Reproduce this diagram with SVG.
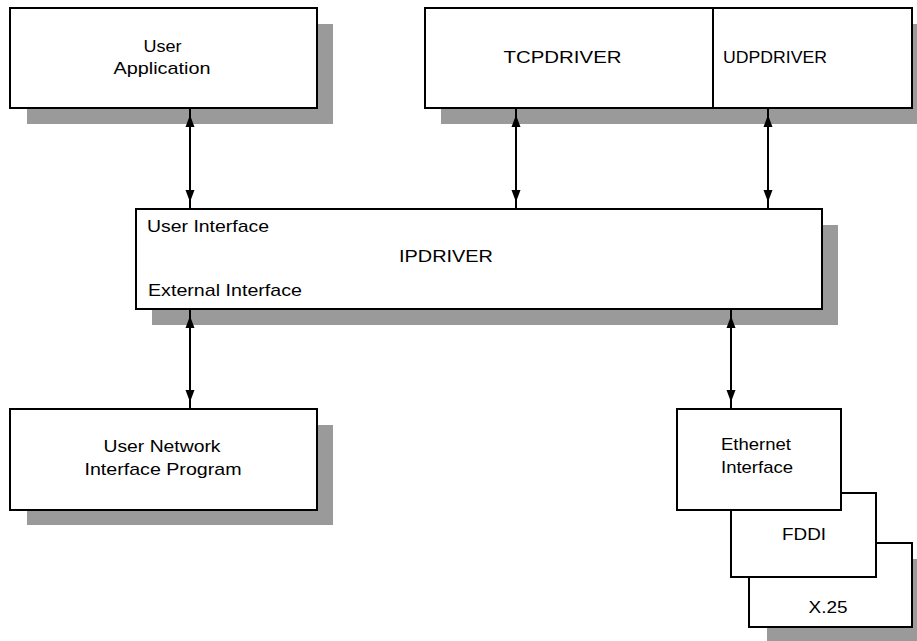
<svg xmlns="http://www.w3.org/2000/svg" width="917" height="641" viewBox="0 0 917 641">
  <style>
    .shadow { fill: #9a9a9a; stroke: none; }
    .box { fill: #ffffff; stroke: #000000; stroke-width: 2; }
    .label { font-family: "Liberation Sans", Arial, sans-serif; font-size: 17px; fill: #000000; }
    .mid { text-anchor: middle; }
    .link { stroke: #000000; stroke-width: 2; fill: none; marker-start: url(#head); marker-end: url(#head); }
  </style>
  <defs>
    <!-- filled head whose tip sits 7px in from the line end -->
    <marker id="head" markerUnits="userSpaceOnUse" viewBox="0 0 20 10" markerWidth="20" markerHeight="10" refX="19" refY="5" orient="auto-start-reverse">
      <path d="M0,0.5 L12,5 L0,9.5 z" fill="#000000"/>
    </marker>
  </defs>

  <rect width="917" height="641" fill="#ffffff"/>

  <g id="user-application">
    <rect class="shadow" x="27" y="24" width="306" height="100"/>
    <rect class="box" x="10" y="8" width="307" height="100"/>
    <text class="label mid" x="162.5" y="52" textLength="38" lengthAdjust="spacingAndGlyphs">User</text>
    <text class="label mid" x="162" y="74" textLength="97" lengthAdjust="spacingAndGlyphs">Application</text>
  </g>

  <g id="transport-drivers">
    <rect class="shadow" x="441" y="24" width="490" height="100"/>
    <rect class="box" x="425" y="8" width="487" height="100"/>
    <line x1="713" y1="8" x2="713" y2="108" stroke="#000000" stroke-width="2"/>
    <text id="tcpdriver" class="label mid" x="562.5" y="63" textLength="118" lengthAdjust="spacingAndGlyphs">TCPDRIVER</text>
    <text id="udpdriver" class="label" x="723" y="63" textLength="104" lengthAdjust="spacingAndGlyphs">UDPDRIVER</text>
  </g>

  <g id="ipdriver">
    <rect class="shadow" x="152" y="225" width="686" height="100"/>
    <rect class="box" x="136" y="209" width="686" height="100"/>
    <text class="label" x="147" y="232" textLength="122" lengthAdjust="spacingAndGlyphs">User Interface</text>
    <text class="label mid" x="446" y="262" textLength="94" lengthAdjust="spacingAndGlyphs">IPDRIVER</text>
    <text class="label" x="148" y="296" textLength="154" lengthAdjust="spacingAndGlyphs">External Interface</text>
  </g>

  <g id="user-network-interface-program">
    <rect class="shadow" x="27" y="425" width="306" height="100"/>
    <rect class="box" x="10" y="409" width="307" height="101"/>
    <text class="label mid" x="162" y="452" textLength="117" lengthAdjust="spacingAndGlyphs">User Network</text>
    <text class="label mid" x="163" y="475" textLength="157" lengthAdjust="spacingAndGlyphs">Interface Program</text>
  </g>

  <g id="x25">
    <rect class="shadow" x="767" y="559" width="163" height="84"/>
    <rect class="box" x="749" y="543" width="163" height="84"/>
    <text class="label mid" x="828" y="613" textLength="39" lengthAdjust="spacingAndGlyphs">X.25</text>
  </g>

  <g id="fddi">
    <rect class="box" x="731" y="493" width="145" height="84"/>
    <text class="label mid" x="804" y="540" textLength="44" lengthAdjust="spacingAndGlyphs">FDDI</text>
  </g>

  <g id="ethernet-interface">
    <rect class="box" x="677" y="409" width="164" height="101"/>
    <text class="label" x="721" y="450" textLength="70" lengthAdjust="spacingAndGlyphs">Ethernet</text>
    <text class="label" x="721" y="473" textLength="72" lengthAdjust="spacingAndGlyphs">Interface</text>
  </g>

  <g id="connectors">
    <line class="link" x1="190" y1="108" x2="190" y2="209"/>
    <line class="link" x1="516" y1="108" x2="516" y2="209"/>
    <line class="link" x1="768" y1="108" x2="768" y2="209"/>
    <line class="link" x1="190" y1="309" x2="190" y2="409"/>
    <line class="link" x1="731" y1="309" x2="731" y2="409"/>
  </g>
</svg>
